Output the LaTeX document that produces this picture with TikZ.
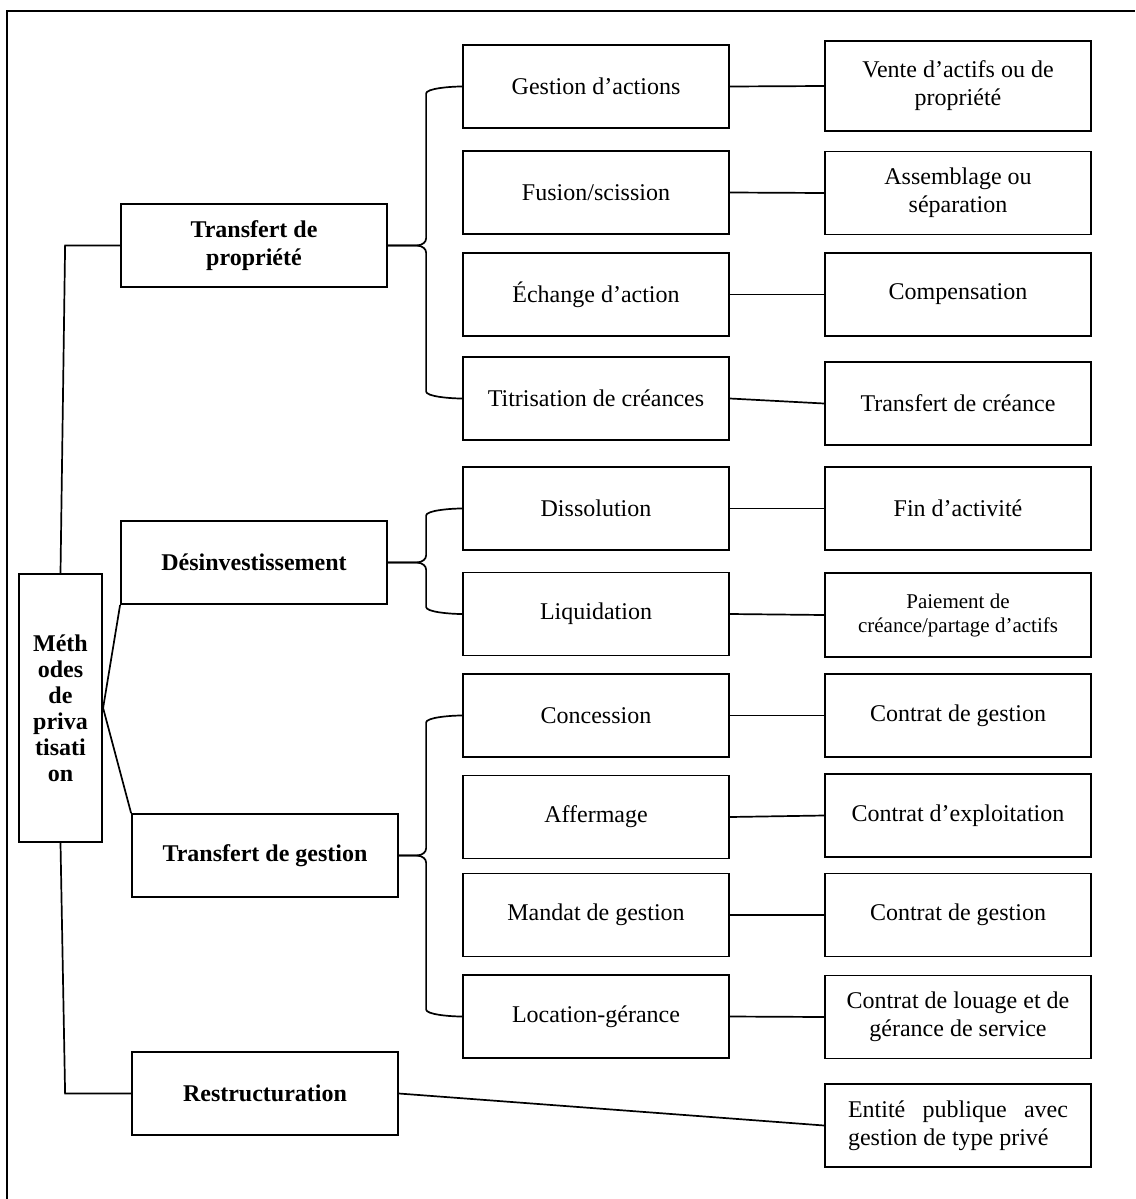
\documentclass[tikz,border=0pt]{standalone}
\usepackage{fontspec}
\setmainfont{Liberation Serif}
\usetikzlibrary{calc}

\newcommand{\taille}{\fontsize{12}{14}\selectfont}
% accolade: parent, top child, bottom child
\newcommand{\accolade}[3]{%
  \path (#2.west) ++(-36,0) coordinate (bx);
  \draw (#1.east) -- ($(bx |- #1.east)+(-10,0)$) .. controls +(7,0) and +(0,3) .. ($(bx |- #1.east)+(0,-7)$)
    -- ($(bx |- #2.west)+(0,7)$) .. controls +(0,-5) and +(-12,0) .. (#2.west);
  \draw (#1.east) -- ($(bx |- #1.east)+(-10,0)$) .. controls +(7,0) and +(0,-3) .. ($(bx |- #1.east)+(0,7)$)
    -- ($(bx |- #3.west)+(0,-7)$) .. controls +(0,5) and +(-12,0) .. (#3.west);
}

\begin{document}
\begin{tikzpicture}[x=0.5pt, y=-0.5pt, line width=0.85pt,
    boite/.style={draw, line width=0.9pt, minimum width=133pt, minimum height=41.5pt,
      inner sep=2pt, align=center, font=\taille},
    titre/.style={boite, font=\taille\bfseries}]
    \useasboundingbox (0,0) rectangle (1135,1199);
    % Frame.
    \draw[line width=1.1pt] (7,1199) -- (7,11) -- (1135,11);

    % Root.
    \node[draw, line width=1.1pt, minimum width=41.5pt, minimum height=134pt, align=center,
      font=\fontsize{12}{13}\selectfont\bfseries] (meth) at (60.5,708)
      {M\'eth\\odes\\de\\priva\\tisati\\on};

    % Methods.
    \node[titre] (tpro) at (254,245.5)  {Transfert de\\propri\'et\'e};
    \node[titre] (desi) at (254,562.5)  {D\'esinvestissement};
    \node[titre] (tges) at (265,855.5)  {Transfert de gestion};
    \node[titre] (rest) at (265,1093.5) {Restructuration};

    % Techniques.
    \node[boite] (gest) at (596,86.5)   {Gestion d’actions};
    \node[boite] (fusi) at (596,192.5)  {Fusion/scission};
    \node[boite] (echa) at (596,294.5)  {\'Echange d’action};
    \node[boite] (titr) at (596,398.5)  {Titrisation de cr\'eances};
    \node[boite] (diss) at (596,508.5)  {Dissolution};
    \node[boite] (liqu) at (596,614)    {Liquidation};
    \node[boite] (conc) at (596,715.5)  {Concession};
    \node[boite] (affe) at (596,817)    {Affermage};
    \node[boite] (mand) at (596,915)    {Mandat de gestion};
    \node[boite] (loca) at (596,1016.5) {Location-g\'erance};

    % Results.
    \node[boite, minimum height=45pt] (vent) at (958,86) {Vente d’actifs ou de\\propri\'et\'e};
    \node[boite] (asse) at (958,193)    {Assemblage ou\\s\'eparation};
    \node[boite] (comp) at (958,294.5)  {Compensation};
    \node[boite] (trcr) at (958,403.5)  {Transfert de cr\'eance};
    \node[boite] (fina) at (958,508.5)  {Fin d’activit\'e};
    \node[boite, minimum height=42pt, font=\fontsize{10.5}{12}\selectfont] (paie) at (958,615)
      {Paiement de\\cr\'eance/partage d’actifs};
    \node[boite] (cgea) at (958,715.5)  {Contrat de gestion};
    \node[boite] (cexp) at (958,815.5)  {Contrat d’exploitation};
    \node[boite] (cgeb) at (958,915)    {Contrat de gestion};
    \node[boite] (clou) at (958,1017)   {Contrat de louage et de\\g\'erance de service};
    \node[boite, text width=110pt, inner xsep=11.5pt, align=justify] (enti) at (958,1125.5)
      {Entit\'e publique avec gestion de type priv\'e};

    % Root to methods.
    \draw (meth.north) -- ($(tpro.west)+(-55,0)$) -- (tpro.west);
    \draw (meth.east) -- (desi.south west);
    \draw (meth.east) -- (tges.north west);
    \draw (meth.south) -- ($(rest.west)+(-66,0)$) -- (rest.west);

    % Methods to techniques.
    \accolade{tpro}{gest}{titr}
    \accolade{desi}{diss}{liqu}
    \accolade{tges}{conc}{loca}
    \draw (rest.east) -- (enti.west);

    % Techniques to results.
    \draw (gest.east) -- (vent.west);
    \draw (fusi.east) -- (asse.west);
    \draw (echa.east) -- (comp.west);
    \draw (titr.east) -- (trcr.west);
    \draw (diss.east) -- (fina.west);
    \draw (liqu.east) -- (paie.west);
    \draw (conc.east) -- (cgea.west);
    \draw (affe.east) -- (cexp.west);
    \draw (mand.east) -- (cgeb.west);
    \draw (loca.east) -- (clou.west);
\end{tikzpicture}
\end{document}
